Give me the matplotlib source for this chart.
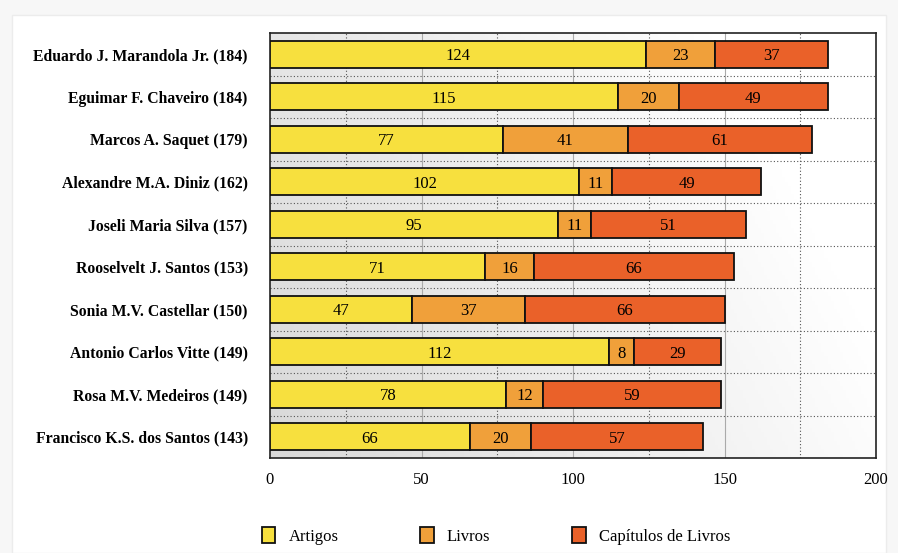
import matplotlib
matplotlib.use("Agg")
import matplotlib.pyplot as plt
import numpy as np
from matplotlib.patches import Rectangle

names = ["Eduardo J. Marandola Jr. (184)", "Eguimar F. Chaveiro (184)", "Marcos A. Saquet (179)",
         "Alexandre M.A. Diniz (162)", "Joseli Maria Silva (157)", "Rooselvelt J. Santos (153)",
         "Sonia M.V. Castellar (150)", "Antonio Carlos Vitte (149)", "Rosa M.V. Medeiros (149)",
         "Francisco K.S. dos Santos (143)"]
artigos = [124, 115, 77, 102, 95, 71, 47, 112, 78, 66]
livros = [23, 20, 41, 11, 11, 16, 37, 8, 12, 20]
capitulos = [37, 49, 61, 49, 51, 66, 66, 29, 59, 57]
series_names = ["Artigos", "Livros", "Capítulos de Livros"]
colors = ["#F7E03E", "#F0A03A", "#EA6129"]

plt.rcParams['font.family'] = ['Liberation Serif', 'DejaVu Serif']

fig = plt.figure(figsize=(8.98, 5.53), dpi=100)
fig.patch.set_facecolor("#f7f7f7")
card = Rectangle((12/898, 0), 1 - 24/898, 1 - 15/553, transform=fig.transFigure,
                 facecolor="white", edgecolor="#ececec", lw=1, zorder=-10)
fig.patches.append(card)

ax = fig.add_axes([270/898, 1 - 458/553, 606/898, 425/553])
ax.set_zorder(1)
n = len(names)
y = np.arange(n)

# background gradient
gx = np.linspace(0, 1, 200)
gy = np.linspace(0, 1, 100)
X, Y = np.meshgrid(gx, gy)
grad = 0.85 + 0.15 * np.clip((X * 1.1 + (1 - Y) * 0.4) / 1.2, 0, 1)
ax.imshow(np.dstack([grad, grad, grad]), extent=[0, 200, n - 0.5, -0.5], aspect='auto', zorder=0)

ax.set_xlim(0, 200)
ax.set_ylim(n - 0.5, -0.5)

for xv in [50, 100, 150]:
    ax.axvline(xv, color="#aaaaaa", lw=0.8, zorder=1)
for xv in [25, 75, 125, 175]:
    ax.axvline(xv, color="#555555", lw=0.8, ls=(0, (1, 2)), zorder=1)
for yv in np.arange(0.5, n - 0.5, 1):
    ax.axhline(yv, color="#555555", lw=0.8, ls=(0, (1, 2)), zorder=1)

h = 0.64
left = np.zeros(n)
for vals, c, lab in zip([artigos, livros, capitulos], colors, series_names):
    vals = np.array(vals)
    ax.barh(y, vals, left=left, height=h, color=c, edgecolor="#111111", lw=1.3, label=lab, zorder=3)
    for yi, l, v in zip(y, left, vals):
        ax.text(l + v / 2, yi, str(v), ha='center', va='center_baseline', fontsize=12, zorder=4)
    left = left + vals

ax.set_yticks(y)
ax.set_yticklabels(names, fontsize=11.3, fontweight='bold')
ax.set_xticks([0, 50, 100, 150, 200])
ax.tick_params(axis='x', labelsize=12, length=0, pad=10)
ax.tick_params(axis='y', length=0, pad=16)
for s in ax.spines.values():
    s.set_color("#222222")
    s.set_linewidth(1.2)

leg = fig.legend(loc='lower left', bbox_to_anchor=(247/898, -0.012), ncol=3, frameon=False,
                 fontsize=12, handlelength=0.8, handleheight=1.1, columnspacing=4.9, handletextpad=0.8)

fig.savefig("out.png", dpi=100, facecolor=fig.get_facecolor())
